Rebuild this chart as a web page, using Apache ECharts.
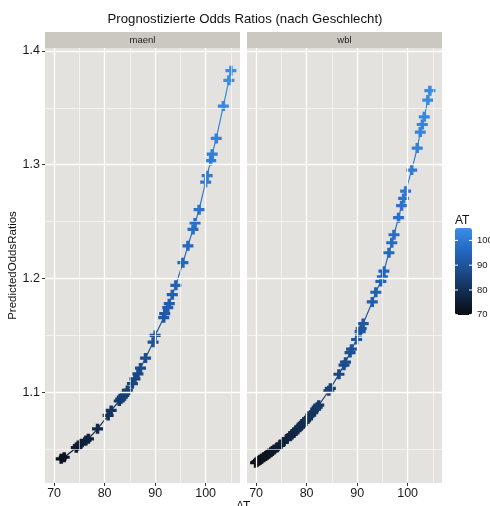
<!DOCTYPE html>
<html>
<head>
<meta charset="utf-8">
<script src="https://cdn.jsdelivr.net/npm/echarts@6/dist/echarts.min.js"></script>
<style>
html, body { margin: 0; padding: 0; background: #fff; }
#chart { width: 490px; height: 506px; }
</style>
</head>
<body>
<div id="chart"></div>
<script>
// Predicted odds ratios against AT, one facet per group
const panels = ['maenl', 'wbl'];

const maenlAT = [71.4, 72.0, 74.4, 74.8, 75.3, 76.3, 76.8, 78.6, 80.7, 81.3,
  82.9, 83.2, 83.5, 83.8, 84.1, 84.5, 85.5, 86.0, 86.6, 87.1,
  88.1, 89.6, 90.0, 91.7, 91.9, 92.5, 92.8, 93.4, 94.1, 95.5,
  96.5, 97.5, 97.9, 98.7, 100.0, 100.3, 101.0, 101.3, 102.1, 103.5,
  104.6, 105.0];
const maenlOR = [1.0417, 1.0431, 1.0515, 1.0534, 1.0549, 1.0578, 1.0593, 1.0681, 1.0798, 1.0842,
  1.0925, 1.0942, 1.0959, 1.0975, 1.0992, 1.1018, 1.1077, 1.1120, 1.1164, 1.1214,
  1.1302, 1.1442, 1.1501, 1.1657, 1.1692, 1.1745, 1.1780, 1.1859, 1.1941, 1.2140,
  1.2288, 1.2432, 1.2489, 1.2605, 1.2847, 1.2904, 1.3036, 1.3093, 1.3231, 1.3515,
  1.3741, 1.3826];

const wblAT = [69.9, 70.2, 70.5, 70.8, 71.1, 71.5, 71.9, 72.2, 72.5, 72.9,
  73.2, 73.6, 74.2, 74.8, 75.4, 76.1, 76.7, 77.1, 77.5, 77.9,
  78.2, 78.6, 79.1, 79.5, 79.8, 80.2, 80.8, 81.2, 81.8, 82.1,
  82.4, 84.4, 84.7, 86.4, 87.4, 87.7, 88.6, 88.9, 89.9, 90.6,
  90.8, 91.2, 93.0, 93.7, 94.7, 95.0, 95.3, 96.3, 96.85, 97.3,
  98.2, 98.8, 99.2, 99.6, 100.8, 101.9, 102.5, 102.9, 103.3, 104.0,
  104.4];
const wblOR = [1.0383, 1.0392, 1.0401, 1.0410, 1.0419, 1.0431, 1.0443, 1.0452, 1.0462, 1.0475,
  1.0486, 1.0499, 1.0520, 1.0543, 1.0565, 1.0592, 1.0615, 1.0631, 1.0648, 1.0665,
  1.0678, 1.0696, 1.0719, 1.0737, 1.0752, 1.0771, 1.0801, 1.0822, 1.0854, 1.0871,
  1.0888, 1.1015, 1.1036, 1.1160, 1.1240, 1.1266, 1.1350, 1.1380, 1.1465, 1.1535,
  1.1560, 1.1605, 1.1795, 1.1880, 1.1975, 1.2015, 1.2065, 1.2227, 1.2315, 1.2385,
  1.2535, 1.2640, 1.2704, 1.2768, 1.2953, 1.3146, 1.3287, 1.3353, 1.3421, 1.3568,
  1.3650];

const xTicks = [70, 80, 90, 100];
const xMinor = [75, 85, 95, 105];
const yTicks = [1.1, 1.2, 1.3, 1.4];
const yMinor = [1.05, 1.15, 1.25, 1.35];
const colorTicks = [70, 80, 90, 100];

const xRange = [68.2, 106.8];
const yRange = [1.0205, 1.4025];
const colorRange = [69.9, 105.0];

const FONT = '"Liberation Sans", Arial, Helvetica, sans-serif';
const PANEL_BG = '#e3e2de';
const STRIP_BG = '#cac8c1';

const panelGrids = [
  { left: 45, top: 48, width: 195, height: 435 },
  { left: 247, top: 48, width: 195, height: 435 }
];
const barBox = { left: 455, top: 228, width: 17, height: 87 };

const toPairs = (xs, ys) => xs.map((x, i) => [x, ys[i]]);
const seriesData = [toPairs(maenlAT, maenlOR), toPairs(wblAT, wblOR)];

// thick "+" marker
const PLUS = 'path://M3.4,0H6.6V3.4H10V6.6H6.6V10H3.4V6.6H0V3.4H3.4Z';

function gridLineData() {
  const d = [];
  xMinor.forEach(v => d.push({ xAxis: v, lineStyle: { width: 0.6 } }));
  yMinor.forEach(v => d.push({ yAxis: v, lineStyle: { width: 0.6 } }));
  xTicks.forEach(v => d.push({ xAxis: v, lineStyle: { width: 1.3 } }));
  yTicks.forEach(v => d.push({ yAxis: v, lineStyle: { width: 1.3 } }));
  return d;
}

// grids keep their exact boxes; labels may sit outside them
const grids = panelGrids.map(g => Object.assign({
  show: true, backgroundColor: PANEL_BG, borderWidth: 0, containLabel: false, outerBoundsMode: 'none'
}, g));
grids.push(Object.assign({ show: false, containLabel: false, outerBoundsMode: 'none' }, barBox));

const xAxes = panelGrids.map((g, i) => ({
  type: 'value', gridIndex: i, min: xRange[0], max: xRange[1],
  axisLine: { show: false },
  axisTick: { show: true, length: 3, lineStyle: { color: '#333', width: 1 }, customValues: xTicks },
  axisLabel: { customValues: xTicks, fontSize: 12.5, fontFamily: FONT, color: '#1a1a1a', margin: 4 },
  splitLine: { show: false }
}));
xAxes.push({ type: 'value', gridIndex: 2, min: 0, max: 1, show: false });

const yAxes = panelGrids.map((g, i) => ({
  type: 'value', gridIndex: i, min: yRange[0], max: yRange[1],
  axisLine: { show: false },
  axisTick: { show: i === 0, length: 3, lineStyle: { color: '#333', width: 1 }, customValues: yTicks },
  axisLabel: {
    show: i === 0, customValues: yTicks, fontSize: 12.5, fontFamily: FONT, color: '#1a1a1a', margin: 5,
    formatter: v => v.toFixed(1)
  },
  splitLine: { show: false },
  name: i === 0 ? 'PredictedOddsRatios' : '',
  nameLocation: 'middle', nameGap: 22,
  nameTextStyle: { fontSize: 11.5, fontFamily: FONT, color: '#111' }
}));
// colour bar scale: labels to the right of the bar
yAxes.push({
  type: 'value', gridIndex: 2, min: colorRange[0], max: colorRange[1], position: 'right',
  axisLine: { show: false },
  axisTick: { show: false },
  axisLabel: { customValues: colorTicks, fontSize: 9.5, fontFamily: FONT, color: '#1a1a1a', margin: 5 },
  splitLine: { show: false }
});

const series = [];
panelGrids.forEach((g, i) => {
  series.push({
    type: 'scatter', xAxisIndex: i, yAxisIndex: i, data: [], silent: true, z: 1,
    markLine: {
      silent: true, symbol: ['none', 'none'], label: { show: false },
      lineStyle: { color: '#ffffff', type: 'solid' },
      emphasis: { disabled: true },
      data: gridLineData()
    }
  });
});
panelGrids.forEach((g, i) => {
  series.push({
    type: 'line', name: panels[i], xAxisIndex: i, yAxisIndex: i, data: seriesData[i],
    showSymbol: false, lineStyle: { width: 1.2 }, z: 3, silent: true
  });
  series.push({
    type: 'scatter', name: panels[i], xAxisIndex: i, yAxisIndex: i, data: seriesData[i],
    symbol: PLUS, symbolSize: [11, 10], itemStyle: { opacity: 1 }, z: 4, silent: true
  });
});
// white tick dashes on both edges of the colour bar, placed through the bar's own scale
series.push({
  type: 'scatter', xAxisIndex: 2, yAxisIndex: 2, silent: true, z: 10, zlevel: 1,
  symbol: 'rect', symbolSize: [3, 1],
  itemStyle: { color: '#ffffff', opacity: 1 },
  data: colorTicks.flatMap(v => [[0.09, v], [0.91, v]])
});

const chart = echarts.init(document.getElementById('chart'), null, { renderer: 'canvas' });
chart.setOption({
  animation: false,
  backgroundColor: '#ffffff',
  textStyle: { fontFamily: FONT },
  title: [
    { text: 'Prognostizierte Odds Ratios (nach Geschlecht)', left: 'center', top: 13, padding: 0,
      textStyle: { fontSize: 13.2, fontWeight: 'normal', color: '#111', fontFamily: FONT } },
    { text: 'AT', left: 455, top: 215, padding: 0,
      textStyle: { fontSize: 12, fontWeight: 'normal', color: '#111', fontFamily: FONT } },
    { text: 'AT', left: 236, top: 501, padding: 0,
      textStyle: { fontSize: 12, fontWeight: 'normal', color: '#111', fontFamily: FONT } }
  ],
  grid: grids,
  xAxis: xAxes,
  yAxis: yAxes,
  visualMap: {
    type: 'continuous', min: colorRange[0], max: colorRange[1], dimension: 0,
    seriesIndex: [2, 3, 4, 5], left: barBox.left, top: barBox.top,
    itemWidth: barBox.width, itemHeight: barBox.height,
    padding: 0, calculable: false, hoverLink: false, realtime: false, z: 1,
    inRange: { color: ['#0a0c12', '#112a4c', '#1b4c8c', '#2468c2', '#3b8ee6'] }
  },
  graphic: panelGrids.map((g, i) => ({
    type: 'group', left: g.left, top: 32,
    children: [
      { type: 'rect', shape: { x: 0, y: 0, width: g.width, height: 16 }, style: { fill: STRIP_BG } },
      { type: 'text', x: g.width / 2, y: 8,
        style: { text: panels[i], fill: '#222', font: '9.5px ' + FONT, align: 'center', verticalAlign: 'middle' } }
    ]
  })),
  series: series
});
</script>
</body>
</html>
